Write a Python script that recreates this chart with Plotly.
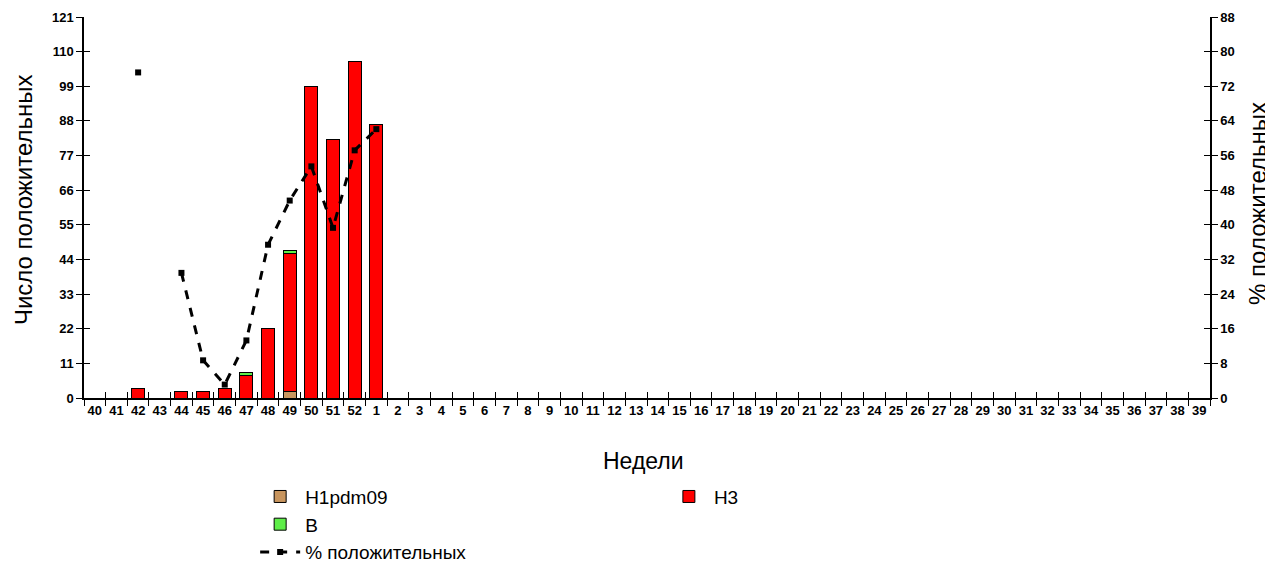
import plotly.graph_objects as go

weeks = [str(w) for w in list(range(40, 53)) + list(range(1, 40))]
h1pdm09 = [0, 0, 0, 0, 0, 0, 0, 0, 0, 2, 0, 0, 0, 0] + [0] * 38
h3 = [0, 0, 3, 0, 2, 2, 3, 7, 22, 44, 99, 82, 107, 87] + [0] * 38
b = [0, 0, 0, 0, 0, 0, 0, 1, 0, 1, 0, 0, 0, 0] + [0] * 38
pct = [None, None, 75.2, None, 28.9, 8.7, 3.1, 13.3, 35.4, 45.6, 53.5, 39.3, 57.2, 62.1] + [None] * 38

left_ticks = list(range(0, 122, 11))
right_ticks = list(range(0, 89, 8))

FONT = "Arial, Liberation Sans, sans-serif"
tickfont = dict(family=FONT, size=13, color="black")

fig = go.Figure()
bar_line = dict(color="black", width=1)
fig.add_trace(go.Bar(x=weeks, y=h1pdm09, name="H1pdm09", marker=dict(color="#C8955E", line=bar_line), legend="legend"))
fig.add_trace(go.Bar(x=weeks, y=h3, name="H3", marker=dict(color="#FF0000", line=bar_line), legend="legend2"))
fig.add_trace(go.Bar(x=weeks, y=b, name="B", marker=dict(color="#5EEE48", line=bar_line), legend="legend"))
fig.add_trace(go.Scatter(x=weeks, y=pct, name="% положительных", yaxis="y2", mode="lines+markers",
                         line=dict(color="black", width=3, dash="dash"),
                         marker=dict(color="black", size=6, symbol="square"),
                         connectgaps=False, legend="legend"))
# helper traces so the overlay axes (inner half of the crossing ticks) are drawn
fig.add_trace(go.Scatter(x=weeks, y=[None] * len(weeks), xaxis="x2", yaxis="y3",
                         showlegend=False, hoverinfo="skip"))
fig.add_trace(go.Scatter(x=weeks, y=[None] * len(weeks), xaxis="x", yaxis="y4",
                         showlegend=False, hoverinfo="skip"))

common_x = dict(type="category", categoryorder="array", categoryarray=weeks,
                range=[-0.5, len(weeks) - 0.5], tickson="boundaries", tickcolor="black",
                tickwidth=1, ticklen=6, showgrid=False, automargin=False)

fig.update_layout(
    width=1265, height=560,
    margin=dict(l=76, r=63, t=9, b=170, autoexpand=False),
    plot_bgcolor="white", paper_bgcolor="white",
    barmode="stack", bargap=0.4,
    font=dict(family=FONT, color="black"),
    xaxis=dict(**common_x, tickmode="array", tickvals=weeks, ticktext=[f"<b>{w}</b>" for w in weeks],
               ticks="outside", showline=True, linecolor="black", linewidth=1.5,
               tickfont=tickfont, tickangle=0),
    xaxis2=dict(**common_x, overlaying="x", anchor="y", ticks="inside", showticklabels=False,
                showline=False),
    yaxis=dict(range=[0, 121], tickmode="array", tickvals=left_ticks,
               ticktext=[f"<b>{t}</b>" for t in left_ticks],
               ticks="outside", ticklen=6, tickcolor="black", showline=True, linecolor="black",
               linewidth=1.5, showgrid=False, zeroline=False, tickfont=tickfont, automargin=False),
    yaxis2=dict(range=[0, 88], overlaying="y", side="right", anchor="x", tickmode="array",
                tickvals=right_ticks, ticktext=[f"<b>{t}</b>" for t in right_ticks],
                ticks="outside", ticklen=6, tickcolor="black", showline=True, linecolor="black",
                linewidth=1.5, showgrid=False, zeroline=False, tickfont=tickfont, automargin=False),
    yaxis3=dict(range=[0, 121], overlaying="y", side="left", anchor="x2", tickmode="array",
                tickvals=left_ticks, ticks="inside", ticklen=6, tickcolor="black",
                showticklabels=False, showline=False, showgrid=False, zeroline=False, automargin=False),
    yaxis4=dict(range=[0, 88], overlaying="y", side="right", anchor="x", tickmode="array",
                tickvals=right_ticks, ticks="inside", ticklen=6, tickcolor="black",
                showticklabels=False, showline=False, showgrid=False, zeroline=False, automargin=False),
    legend=dict(x=0.152, y=-0.209, xanchor="left", yanchor="top", orientation="v",
                traceorder="normal", font=dict(family=FONT, size=19, color="black"),
                tracegroupgap=0, itemwidth=40, bgcolor="rgba(0,0,0,0)"),
    legend2=dict(x=0.515, y=-0.209, xanchor="left", yanchor="top", orientation="v",
                 traceorder="normal", font=dict(family=FONT, size=19, color="black"),
                 itemwidth=40, bgcolor="rgba(0,0,0,0)"),
    annotations=[
        dict(text="Недели", xref="paper", yref="paper", x=0.497, y=-0.165, xanchor="center",
             yanchor="middle", showarrow=False, font=dict(family=FONT, size=23, color="black")),
        dict(text="Число положительных", xref="paper", yref="paper", x=-0.0542, y=0.522,
             xanchor="center", yanchor="middle", textangle=-90, showarrow=False,
             font=dict(family=FONT, size=24, color="black")),
        dict(text="% положительных", xref="paper", yref="paper", x=1.0426, y=0.512,
             xanchor="center", yanchor="middle", textangle=-90, showarrow=False,
             font=dict(family=FONT, size=24, color="black")),
    ],
)

fig.write_html("out.html")
